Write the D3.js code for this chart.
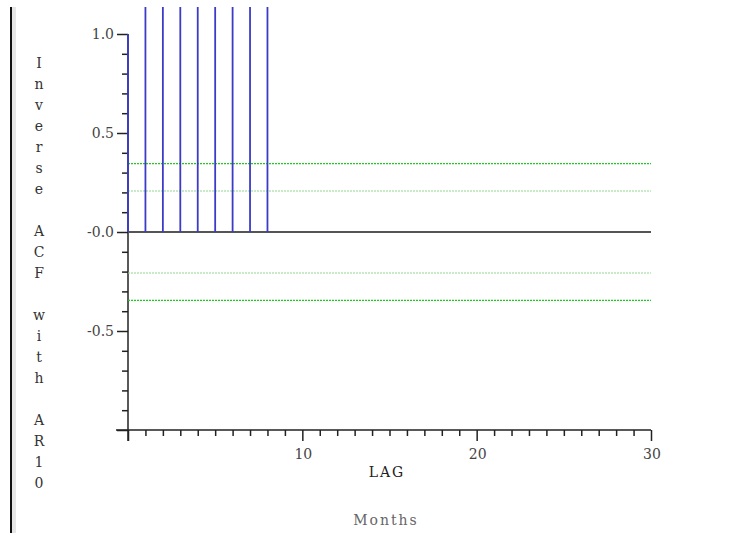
<!DOCTYPE html>
<html>
<head>
<meta charset="utf-8">
<script src="https://cdn.jsdelivr.net/npm/d3@7"></script>
<style>
  html, body { margin: 0; padding: 0; background: #fff; }
  svg { display: block; }
  text { font-family: "DejaVu Serif", serif; }
</style>
</head>
<body>
<svg id="chart" width="751" height="533"></svg>
<script>
// Inverse autocorrelations by lag (spikes run past the top of the frame)
const lags = [0, 1, 2, 3, 4, 5, 6, 7, 8];
const invAcf = [1.0, 1.2, 1.2, 1.2, 1.2, 1.2, 1.2, 1.2, 1.2];

// Confidence bands drawn as dotted horizontal lines
const outerBand = [0.345, -0.345];
const innerBand = [0.207, -0.207];

const xTickLabels = [10, 20, 30];
const yTickLabels = ["1.0", "0.5", "-0.0", "-0.5"];
const yTickValues = [1.0, 0.5, 0.0, -0.5];
const yLabelText = "Inverse ACF with AR10";

const svg = d3.select("#chart");

const x = d3.scaleLinear().domain([0, 30]).range([128, 651]);
const y = d3.scaleLinear().domain([-1, 1]).range([430, 34]);

// Left frame edge
svg.append("rect").attr("x", 10).attr("y", 7).attr("width", 2).attr("height", 526).attr("fill", "#111");
svg.append("rect").attr("x", 12).attr("y", 7).attr("width", 4).attr("height", 526).attr("fill", "#e6e6e6");

svg.append("defs").append("clipPath").attr("id", "plotClip")
  .append("rect").attr("x", 0).attr("y", 7).attr("width", 751).attr("height", 526);

// Y axis: majors every 0.5, minors every 0.1
const yAxis = d3.axisLeft(y)
  .tickValues(d3.range(-10, 11).map(d => d / 10))
  .tickSize(0)
  .tickFormat("");
const gy = svg.append("g").attr("transform", `translate(${x(0)},0)`).call(yAxis);
gy.select(".domain").remove();
gy.selectAll(".tick line")
  .attr("x2", d => (Math.abs(d * 2 - Math.round(d * 2)) < 1e-9 ? -11 : -6))
  .attr("stroke", "#222").attr("stroke-width", 1.5);
svg.append("line")
  .attr("x1", x(0)).attr("x2", x(0)).attr("y1", y(1)).attr("y2", y(-1) + 11)
  .attr("stroke", "#222").attr("stroke-width", 1.5);

svg.selectAll(".ylab").data(yTickValues).enter().append("text")
  .attr("class", "ylab")
  .attr("x", 114).attr("y", d => y(d) + 5)
  .attr("text-anchor", "end")
  .attr("font-size", 14).attr("fill", "#444")
  .text((d, i) => yTickLabels[i]);

// X axis: majors every 10, minors every 1
const xAxis = d3.axisBottom(x)
  .tickValues(d3.range(0, 31))
  .tickSize(0)
  .tickFormat("");
const gx = svg.append("g").attr("transform", `translate(0,${y(-1)})`).call(xAxis);
gx.select(".domain").remove();
gx.selectAll(".tick line")
  .attr("y2", d => (d % 10 === 0 ? 11 : 6))
  .attr("stroke", "#222").attr("stroke-width", 1.5);
svg.append("line")
  .attr("x1", x(0) - 12).attr("x2", x(30)).attr("y1", y(-1)).attr("y2", y(-1))
  .attr("stroke", "#222").attr("stroke-width", 1.5);

svg.selectAll(".xlab").data(xTickLabels).enter().append("text")
  .attr("class", "xlab")
  .attr("x", d => x(d) + 1).attr("y", 459)
  .attr("text-anchor", "middle")
  .attr("font-size", 14).attr("fill", "#444")
  .text(d => d);

// Zero reference line
svg.append("line")
  .attr("x1", x(0)).attr("x2", x(30)).attr("y1", y(0)).attr("y2", y(0))
  .attr("stroke", "#555").attr("stroke-width", 2);

// Confidence bands
svg.selectAll(".inner").data(innerBand).enter().append("line")
  .attr("x1", x(0)).attr("x2", x(30)).attr("y1", d => y(d)).attr("y2", d => y(d))
  .attr("stroke", "#8ed88e").attr("stroke-width", 1.2).attr("stroke-dasharray", "2,1");
svg.selectAll(".outer").data(outerBand).enter().append("line")
  .attr("x1", x(0)).attr("x2", x(30)).attr("y1", d => y(d)).attr("y2", d => y(d))
  .attr("stroke", "#22c822").attr("stroke-width", 1.2).attr("stroke-dasharray", "2,1");

// Spikes
svg.append("g").attr("clip-path", "url(#plotClip)")
  .selectAll("line").data(lags).enter().append("line")
  .attr("x1", d => x(d)).attr("x2", d => x(d))
  .attr("y1", y(0)).attr("y2", (d, i) => y(invAcf[i]))
  .attr("stroke", "#3b3bc8").attr("stroke-width", 1.8);

// Axis titles
svg.append("text")
  .attr("x", 387).attr("y", 477)
  .attr("text-anchor", "middle")
  .attr("font-size", 14).attr("letter-spacing", 2).attr("fill", "#222")
  .text("LAG");
svg.append("text")
  .attr("x", 386).attr("y", 525)
  .attr("text-anchor", "middle")
  .attr("font-size", 14).attr("letter-spacing", 2).attr("fill", "#666")
  .text("Months");

// Stacked vertical y-axis title, one character per row
svg.selectAll(".ychar").data(yLabelText.split("")).enter().append("text")
  .attr("class", "ychar")
  .attr("x", 39).attr("y", (d, i) => 68 + i * 21)
  .attr("text-anchor", "middle")
  .attr("font-size", 14).attr("fill", "#333")
  .text(d => d);
</script>
</body>
</html>
